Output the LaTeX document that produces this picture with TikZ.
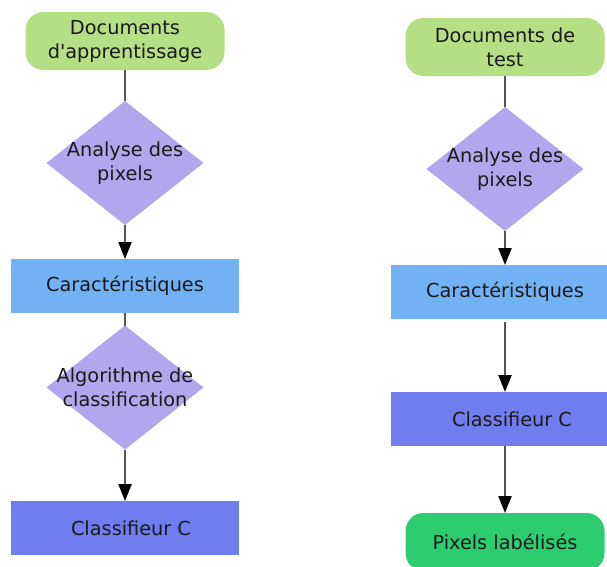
\documentclass[tikz,border=0pt]{standalone}
\usepackage{fontspec}
\setmainfont{DejaVu Sans}
\usetikzlibrary{shapes.geometric,arrows.meta}
\definecolor{docgreen}{HTML}{B4DF84}
\definecolor{diapurple}{HTML}{B2A6EC}
\definecolor{featblue}{HTML}{72B1F3}
\definecolor{clsblue}{HTML}{707DEF}
\definecolor{outgreen}{HTML}{2ECC71}
\definecolor{txtdark}{HTML}{1A1A1A}
\definecolor{linegray}{HTML}{555555}
\tikzset{
  base/.style={inner sep=0pt, outer sep=0pt, text=txtdark, align=center, font=\fontsize{19.3}{24}\selectfont},
  roundbox/.style={base, rectangle, rounded corners=18pt, minimum width=199pt, minimum height=58pt},
  rectbox/.style={base, rectangle, minimum width=228pt, minimum height=54pt},
  diabox/.style={diamond, inner sep=0pt, outer sep=0pt, minimum width=157pt, minimum height=124pt, fill=diapurple},
  diatext/.style={base},
  plain/.style={draw=linegray, line width=2.2pt},
  arr/.style={plain, -{Triangle[width=13pt,length=17pt,fill=black,color=black]}},
}
\begin{document}
\begin{tikzpicture}[x=1pt,y=-1pt]
\path[use as bounding box, clip] (0,0) rectangle (607,566);
% left column
\node[roundbox, fill=docgreen] (ldoc) at (125,41) {Documents\\d\textquotesingle apprentissage};
\node[diabox] (ldia1) at (125,163) {};
\node[diatext] (ldia1t) at (125,163) {Analyse des\\pixels};
\node[rectbox, fill=featblue] (lfeat) at (125,286) {Caractéristiques};
\node[diabox] (ldia2) at (125,387.5) {};
\node[diatext] (ldia2t) at (125,387.5) {Algorithme de\\classification};
\node[rectbox, fill=clsblue] (lcls) at (125,528) {\hspace*{12pt}Classifieur C};
% right column
\node[roundbox, fill=docgreen] (rdoc) at (505,47) {Documents de\\test};
\node[diabox] (rdia) at (505,169) {};
\node[diatext] (rdiat) at (505,169) {Analyse des\\pixels};
\node[rectbox, fill=featblue] (rfeat) at (505,292) {Caractéristiques};
\node[rectbox, fill=clsblue] (rcls) at (505,419) {\hspace*{14pt}Classifieur C};
\node[roundbox, fill=outgreen] (rout) at (505,542) {Pixels labélisés};
% connectors
\draw[plain] (ldoc.south) -- (ldia1.north);
\draw[arr] (ldia1.south) -- (lfeat.north);
\draw[plain] (lfeat.south) -- (ldia2.north);
\draw[arr] (ldia2.south) -- (lcls.north);
\draw[plain] (rdoc.south) -- (rdia.north);
\draw[arr] (rdia.south) -- (rfeat.north);
\draw[arr] ([yshift=-3pt]rfeat.south) -- (rcls.north);
\draw[arr] (rcls.south) -- (rout.north);
\end{tikzpicture}
\end{document}
